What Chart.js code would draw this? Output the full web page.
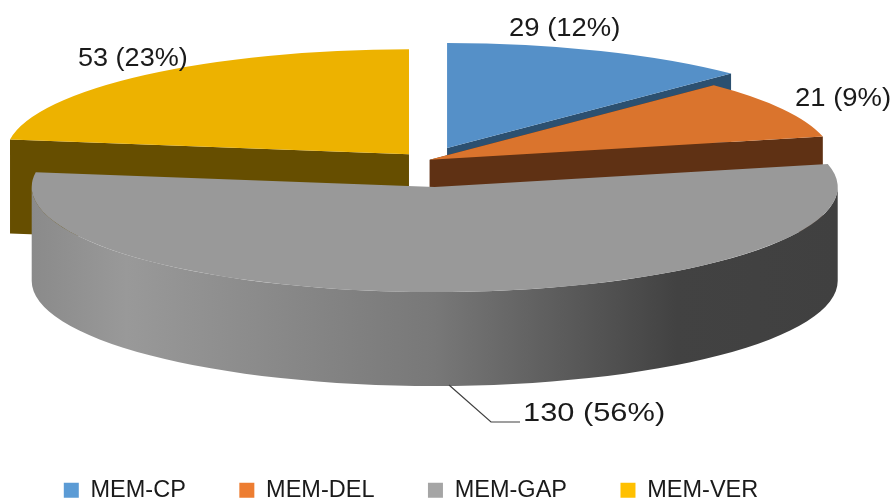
<!DOCTYPE html>
<html>
<head>
<meta charset="utf-8">
<style>html,body{margin:0;padding:0;background:#fff}canvas{display:block}</style>
<script src="https://cdn.jsdelivr.net/npm/chart.js@4/dist/chart.umd.js"></script>
</head>
<body>
<canvas id="c" width="894" height="503"></canvas>
<script>
const categories = ['MEM-CP', 'MEM-DEL', 'MEM-GAP', 'MEM-VER'];
const values = [29, 21, 130, 53];
const topColors = ['#5590C8', '#DA742D', '#999999', '#EDB200'];
const wallColors = ['#2C5070', '#5F3114', null, '#664E00'];
const legendColors = ['#5B9BD5', '#ED7D31', '#A5A5A5', '#FFC000'];
const explode = [24.8, 1, 51.6, 14.4];
const nudge = [0, 0, 2.5, 0];
const drawOrder = [3, 0, 1, 2];
const labelAnchors = [[509, 29, 1.055], [795, 99, 1.055], [523, 414, 1.185], [78, 59, 1.04]];

const view = {cx: 428, cy: 160, rx: 403, ry: 105, depth: 94};

const pie3d = {
  id: 'pie3d',
  beforeDatasetsDraw(chart) {
    const ctx = chart.ctx;
    const arcs = chart.getDatasetMeta(0).data;
    const total = values.reduce((a, b) => a + b, 0);
    drawOrder.forEach(i => {
      const arc = arcs[i];
      const R = arc.outerRadius, sx = view.rx / R, sy = view.ry / R;
      const mid = (arc.startAngle + arc.endAngle) / 2;
      const ax = arc.x + Math.cos(mid) * explode[i];
      const ay = arc.y + Math.sin(mid) * explode[i];
      const d = view.depth / sy;
      const project = () => {
        ctx.translate(view.cx + nudge[i], view.cy);
        ctx.scale(sx, sy);
        ctx.translate(-arc.x, -arc.y);
      };
      const face = angle => {
        ctx.save();
        project();
        ctx.beginPath();
        ctx.moveTo(ax, ay);
        ctx.lineTo(ax + Math.cos(angle) * R, ay + Math.sin(angle) * R);
        ctx.lineTo(ax + Math.cos(angle) * R, ay + d + Math.sin(angle) * R);
        ctx.lineTo(ax, ay + d);
        ctx.closePath();
        ctx.fillStyle = wallColors[i];
        ctx.fill();
        ctx.restore();
      };
      if (wallColors[i]) {
        face(arc.startAngle);
        face(arc.endAngle);
      } else {
        const a0 = Math.max(arc.startAngle, 0), a1 = Math.min(arc.endAngle, Math.PI);
        ctx.save();
        project();
        ctx.beginPath();
        ctx.arc(ax, ay, R, a0, a1);
        ctx.arc(ax, ay + d, R, a1, a0, true);
        ctx.closePath();
        ctx.setTransform(1, 0, 0, 1, 0, 0);
        const g = ctx.createLinearGradient(30, 0, 838, 0);
        g.addColorStop(0, '#8A8A8A');
        g.addColorStop(0.12, '#999999');
        g.addColorStop(0.5, '#787878');
        g.addColorStop(0.8, '#424242');
        g.addColorStop(1, '#404040');
        ctx.fillStyle = g;
        ctx.fill();
        ctx.restore();
      }
      ctx.save();
      project();
      ctx.translate(Math.cos(mid) * explode[i], Math.sin(mid) * explode[i]);
      arc.draw(ctx);
      ctx.restore();
    });
    ctx.save();
    ctx.strokeStyle = '#404040';
    ctx.lineWidth = 1.2;
    ctx.beginPath();
    ctx.moveTo(449, 385); ctx.lineTo(491, 422); ctx.lineTo(520, 422);
    ctx.stroke();
    ctx.fillStyle = '#1a1a1a';
    ctx.font = '26px "Liberation Sans", Arial, sans-serif';
    ctx.textBaseline = 'middle';
    ctx.textAlign = 'left';
    values.forEach((v, i) => {
      const [x, y, stretch] = labelAnchors[i];
      ctx.save();
      ctx.translate(x, y);
      ctx.scale(stretch, 1);
      ctx.fillText(v + ' (' + Math.round(v / total * 100) + '%)', 0, 0);
      ctx.restore();
    });
    ctx.restore();
    return false;
  }
};

new Chart(document.getElementById('c'), {
  type: 'pie',
  data: {
    labels: categories,
    datasets: [{data: values, backgroundColor: topColors, borderWidth: 0, radius: 200, hoverOffset: 0}]
  },
  plugins: [pie3d],
  options: {
    responsive: false,
    animation: false,
    rotation: 0,
    layout: {padding: {right: 72, bottom: -9}},
    plugins: {
      tooltip: {enabled: false},
      legend: {
        position: 'bottom',
        labels: {
          color: '#1a1a1a',
          font: {family: '"Liberation Sans", Arial, sans-serif', size: 23.5},
          boxWidth: 15,
          boxHeight: 15,
          padding: 53.5,
          generateLabels(chart) {
            const items = Chart.overrides.pie.plugins.legend.labels.generateLabels(chart);
            items.forEach((it, i) => { it.fillStyle = legendColors[i]; it.strokeStyle = legendColors[i]; it.lineWidth = 0; });
            return items;
          }
        }
      }
    }
  }
});
</script>
</body>
</html>
